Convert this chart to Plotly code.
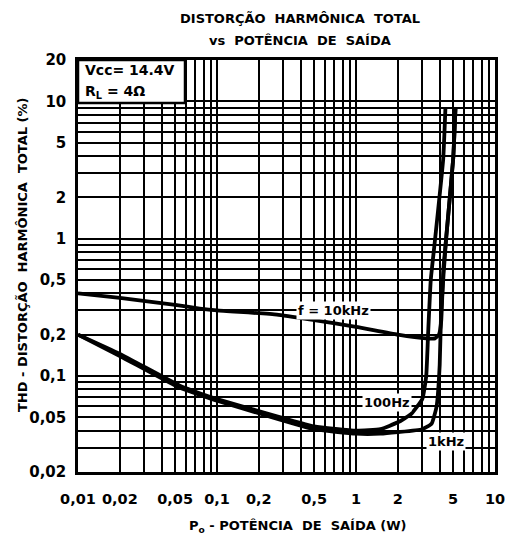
import math
import plotly.graph_objects as go

# ---- data ----
x_10k = [0.01, 0.02, 0.05, 0.075, 0.1, 0.27, 0.5, 1, 2, 3.2, 3.7, 3.95, 4.1, 4.25, 4.45, 5.0, 5.2]
y_10k = [0.40, 0.37, 0.33, 0.31, 0.30, 0.28, 0.255, 0.228, 0.20, 0.188, 0.188, 0.2, 0.25, 0.6, 1.0, 3.8, 9.0]

x_100 = [0.01, 0.02, 0.054, 0.075, 0.1, 0.22, 0.5, 1, 1.5, 2, 2.5, 3.0, 3.2, 3.3, 3.45, 3.71, 4.24, 4.4]
y_100 = [0.20, 0.145, 0.085, 0.075, 0.068, 0.054, 0.043, 0.040, 0.041, 0.046, 0.053, 0.068, 0.1, 0.2, 0.5, 1.0, 3.8, 9.0]

x_1k = [0.01, 0.02, 0.054, 0.075, 0.1, 0.22, 0.5, 1, 1.5, 2, 3, 3.5, 3.8, 4.0, 4.1, 4.45, 5.0, 5.2]
y_1k = [0.20, 0.14, 0.082, 0.073, 0.066, 0.052, 0.041, 0.038, 0.038, 0.039, 0.041, 0.045, 0.06, 0.12, 0.3, 1.0, 3.8, 9.0]

x_tick_labels = {0.01: "0,01", 0.02: "0,02", 0.05: "0,05", 0.1: "0,1", 0.2: "0,2",
                 0.5: "0,5", 1: "1", 2: "2", 5: "5", 10: "10"}
y_tick_labels = {0.02: "0,02", 0.05: "0,05", 0.1: "0,1", 0.2: "0,2", 0.5: "0,5",
                 1: "1", 2: "2", 5: "5", 10: "10", 20: "20"}

# grid positions (log paper)
def grid_vals(lo, hi, emin, emax):
    vals = []
    for e in range(emin, emax + 1):
        for d in range(1, 10):
            v = round(d * 10 ** e, 6)
            if lo - 1e-9 <= v <= hi + 1e-9:
                vals.append(v)
    return vals

xg = grid_vals(0.01, 10, -2, 1)
yg = grid_vals(0.02, 20, -2, 1)

def lab(d, v):
    for k, t in d.items():
        if abs(k - v) < 1e-9:
            return t
    return " "

W, H = 505, 542
L, R, T, B = 78, 495, 60, 472

def px(xp):
    return (xp - L) / (R - L)

def py(yp):
    return (B - yp) / (B - T)

FONT = "DejaVu Sans"

fig = go.Figure()
for xs, ys in [(x_100, y_100), (x_1k, y_1k), (x_10k, y_10k)]:
    fig.add_trace(go.Scatter(x=xs, y=ys, mode="lines",
                             line=dict(color="black", width=3.8, shape="spline", smoothing=0.4),
                             showlegend=False, hoverinfo="skip"))

fig.update_layout(
    width=W, height=H,
    margin=dict(l=L, r=W - R, t=T, b=H - B, autoexpand=False),
    paper_bgcolor="white", plot_bgcolor="white",
    font=dict(family=FONT, color="black", size=15, weight="bold"),
    xaxis=dict(type="log", range=[-2, 1], tickvals=xg,
               ticktext=[lab(x_tick_labels, v) for v in xg],
               showgrid=True, gridcolor="black", gridwidth=2,
               showline=True, linecolor="black", linewidth=2.5, mirror=True,
               ticks="", zeroline=False, ticklabelstandoff=12, automargin=False,
               tickangle=0, ticklabeloverflow="allow",
               tickfont=dict(size=14.5, family=FONT, weight="bold")),
    yaxis=dict(type="log", range=[math.log10(0.02), math.log10(20)], tickvals=yg,
               ticktext=[lab(y_tick_labels, v) for v in yg],
               showgrid=True, gridcolor="black", gridwidth=2,
               showline=True, linecolor="black", linewidth=2.5, mirror=True,
               ticks="", zeroline=False, ticklabelstandoff=6, automargin=False,
               ticklabeloverflow="allow",
               tickfont=dict(size=15, family=FONT, weight="bold")),
)

# Vcc / RL box
fig.add_shape(type="rect", xref="paper", yref="paper",
              x0=0, x1=px(185), y0=py(103), y1=1,
              fillcolor="white", line=dict(color="black", width=2.5), layer="above")

ann = []
ann.append(dict(text="Vcc= 14.4V", x=px(83), y=py(70), xanchor="left", font=dict(size=14)))
ann.append(dict(text="R<sub>L</sub> = 4Ω", x=px(83), y=py(92), xanchor="left", font=dict(size=14)))
# titles
ann.append(dict(text="DISTORÇÃO  HARMÔNICA  TOTAL", x=px(300), y=py(19), xanchor="center", font=dict(size=13)))
ann.append(dict(text="vs  POTÊNCIA  DE  SAÍDA", x=px(300), y=py(41), xanchor="center", font=dict(size=13)))
ann.append(dict(text="P<sub>o</sub> - POTÊNCIA  DE  SAÍDA (W)", x=px(298), y=py(526), xanchor="center",
                font=dict(size=13)))
ann.append(dict(text="THD - DISTORÇÃO  HARMÔNICA  TOTAL (%)", x=px(22), y=py(255), xanchor="center",
                textangle=-90, font=dict(size=13)))
for a in ann:
    a.update(xref="paper", yref="paper", showarrow=False, yanchor="middle")
    fig.add_annotation(**a)

# curve labels (log coordinates)
for text, xv, yv in [("f = 10kHz", 0.69, 0.30), ("100Hz", 1.68, 0.0646), ("1kHz", 4.45, 0.0335)]:
    fig.add_annotation(text=text, x=math.log10(xv), y=math.log10(yv), xref="x", yref="y",
                       xanchor="center", yanchor="middle",
                       showarrow=False, bgcolor="white", font=dict(size=13),
                       borderpad=1)

fig.write_html("out.html", config={"displayModeBar": False},
               post_script="document.body.style.margin='0';document.body.style.overflow='hidden';")
